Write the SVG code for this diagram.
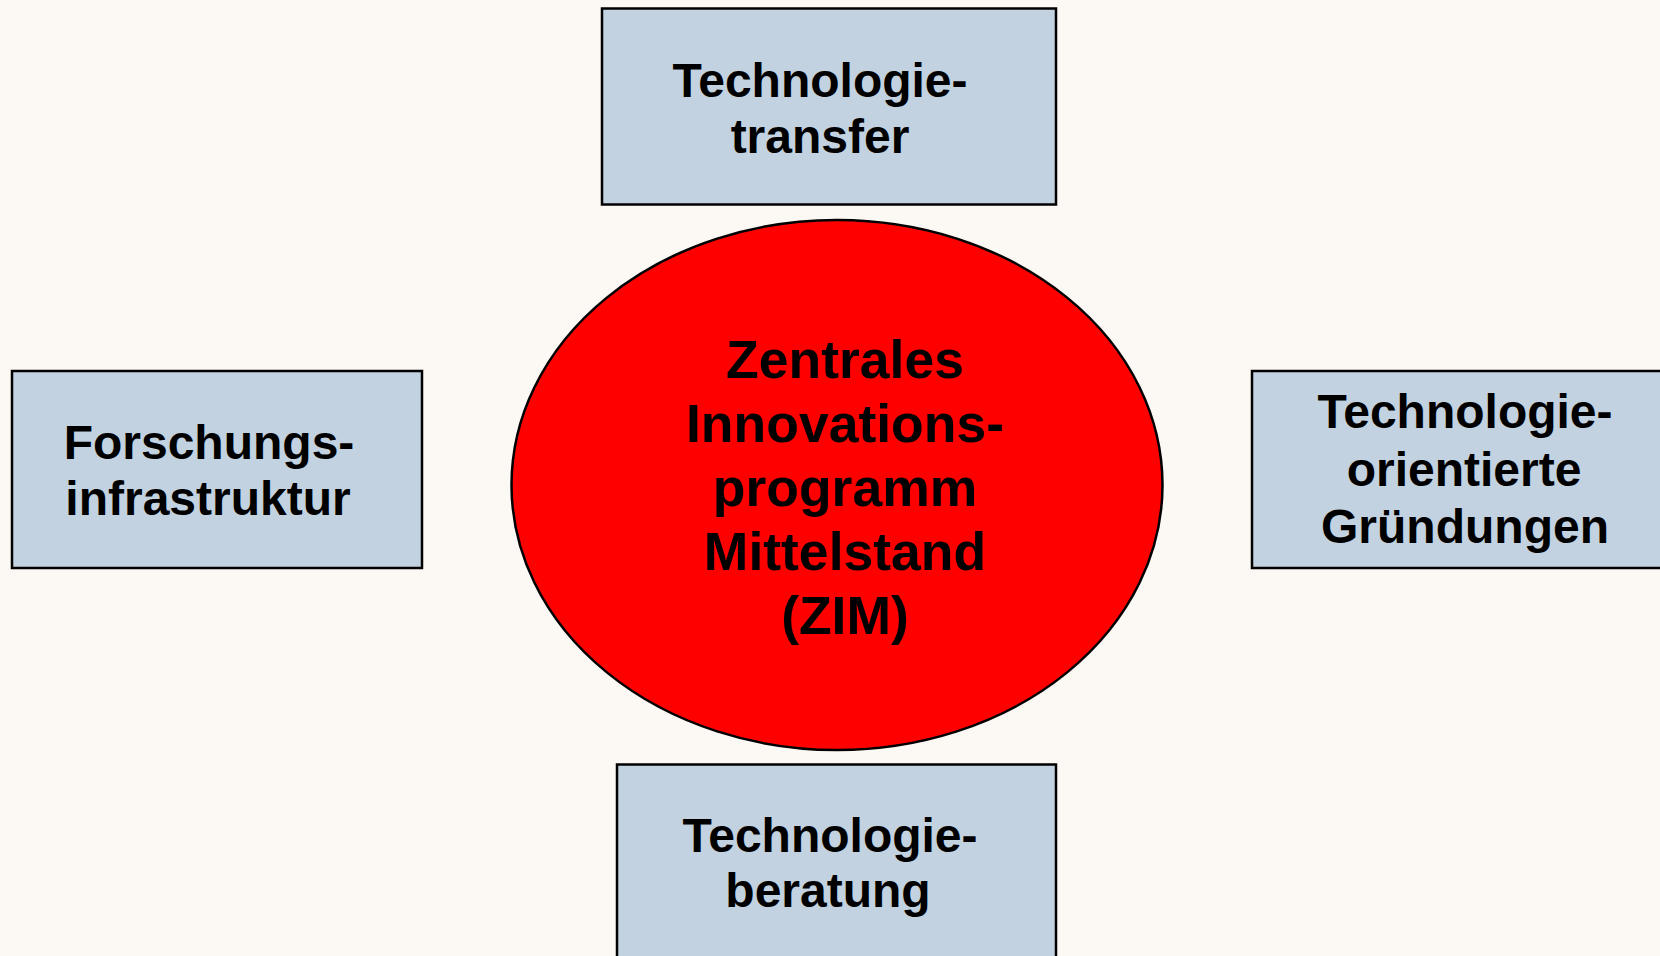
<svg xmlns="http://www.w3.org/2000/svg" width="1660" height="956" viewBox="0 0 1660 956">
<style>
.box{fill:#C2D2E1;stroke:#000;stroke-width:2.5}
.t{font-family:"Liberation Sans",Arial,sans-serif;font-weight:bold;fill:#000;text-anchor:middle}
.bt{font-size:48px}
.et{font-size:53.5px}
</style>
<rect width="1660" height="956" fill="#FCF9F4"/>
<g id="connectors"></g>
<g id="top">
<rect class="box" x="602" y="8.5" width="454" height="196"/>
<text class="t bt" x="820" y="97">Technologie-</text>
<text class="t bt" x="820" y="153">transfer</text>
</g>
<g id="left">
<rect class="box" x="12" y="371" width="410" height="197"/>
<text class="t bt" x="209" y="459">Forschungs-</text>
<text class="t bt" x="208" y="515">infrastruktur</text>
</g>
<g id="right">
<rect class="box" x="1252" y="371" width="420" height="197"/>
<text class="t bt" x="1465" y="428">Technologie-</text>
<text class="t bt" x="1464" y="486">orientierte</text>
<text class="t bt" x="1465" y="543">Gründungen</text>
</g>
<g id="bottom">
<rect class="box" x="617" y="764.5" width="439" height="210"/>
<text class="t bt" x="830" y="852">Technologie-</text>
<text class="t bt" x="828" y="907">beratung</text>
</g>
<g id="center">
<ellipse cx="837" cy="485" rx="325.5" ry="265" fill="#FF0000" stroke="#000" stroke-width="2.5"/>
<text class="t et" x="845" y="378">Zentrales</text>
<text class="t et" x="845" y="442">Innovations-</text>
<text class="t et" x="845" y="506">programm</text>
<text class="t et" x="845" y="570">Mittelstand</text>
<text class="t et" x="845" y="634">(ZIM)</text>
</g>
</svg>
